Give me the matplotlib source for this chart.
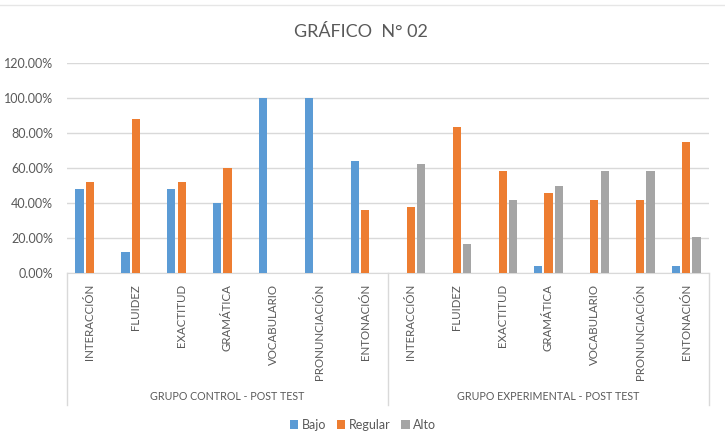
import matplotlib
matplotlib.use("Agg")
import matplotlib.pyplot as plt
import numpy as np

plt.rcParams['font.family'] = ['Lato', 'DejaVu Sans']

categories = ["INTERACCIÓN", "FLUIDEZ", "EXACTITUD", "GRAMÁTICA", "VOCABULARIO", "PRONUNCIACIÓN", "ENTONACIÓN"]
groups = ["GRUPO CONTROL - POST TEST", "GRUPO EXPERIMENTAL - POST TEST"]
series_names = ["Bajo", "Regular", "Alto"]
bajo = [0.48, 0.12, 0.48, 0.40, 1.00, 1.00, 0.64,
        0.0, 0.0, 0.0, 0.0417, 0.0, 0.0, 0.0417]
regular = [0.52, 0.88, 0.52, 0.60, 0.0, 0.0, 0.36,
           0.375, 0.8333, 0.5833, 0.4583, 0.4167, 0.4167, 0.75]
alto = [0.0, 0.0, 0.0, 0.0, 0.0, 0.0, 0.0,
        0.625, 0.1667, 0.4167, 0.50, 0.5833, 0.5833, 0.2083]
colors = ["#5B9BD5", "#ED7D31", "#A5A5A5"]
text_color = "#595959"
grid_color = "#D9D9D9"

W, H = 725, 447
fig = plt.figure(figsize=(W / 100, H / 100), dpi=100)
left, right, top, bottom = 67, 709, 63, 273
ax = fig.add_axes([left / W, 1 - bottom / H, (right - left) / W, (bottom - top) / H])

n = len(bajo)
x = np.arange(n)
step = 0.225
bw = 0.18
for i, (vals, c, name) in enumerate(zip([bajo, regular, alto], colors, series_names)):
    ax.bar(x + (i - 1) * step, vals, width=bw, color=c, label=name, zorder=3)

ax.set_xlim(-0.5, n - 0.5)
ax.set_ylim(0, 1.2)
ax.set_yticks(np.arange(0, 1.21, 0.2))
ax.set_yticklabels([f"{v*100:.2f}%" for v in np.arange(0, 1.21, 0.2)], color=text_color, fontsize=9)
ax.yaxis.grid(True, color=grid_color, linewidth=1, zorder=0)
ax.set_axisbelow(True)
ax.tick_params(axis='y', length=0, pad=10)

ax.set_xticks(x)
ax.set_xticklabels(categories * 2, rotation=90, color=text_color, fontsize=8.3)
ax.tick_params(axis='x', length=0, pad=8)

for s in ['top', 'right', 'left']:
    ax.spines[s].set_visible(False)
ax.spines['bottom'].set_color(grid_color)

# group separators
depth = (405 - bottom) / (bottom - top)
for xs in [-0.5, 6.5, 13.5]:
    ax.plot([xs, xs], [0, -depth], transform=ax.get_xaxis_transform(), color=grid_color,
            lw=1, clip_on=False)
gy = -(397 - bottom) / (bottom - top)
for gi, g in enumerate(groups):
    ax.text(3 + gi * 7, gy, g, transform=ax.get_xaxis_transform(), ha='center', va='center',
            color=text_color, fontsize=7.7)

fig.text(361 / W, 1 - 32 / H, "GRÁFICO  N° 02", ha='center', va='center', color=text_color, fontsize=13)

# faint chart-area border at the top
fig.add_artist(plt.Line2D([0, 1], [1 - 5 / H, 1 - 5 / H], transform=fig.transFigure,
                          color="#E6E6E6", lw=1))

leg = fig.legend(loc='center', bbox_to_anchor=(363 / W, 1 - 425 / H), ncol=3, frameon=False,
                 fontsize=9, handlelength=0.7, handleheight=0.7, handletextpad=0.3, columnspacing=0.8)
for t in leg.get_texts():
    t.set_color(text_color)

fig.savefig("out.png", dpi=100)
